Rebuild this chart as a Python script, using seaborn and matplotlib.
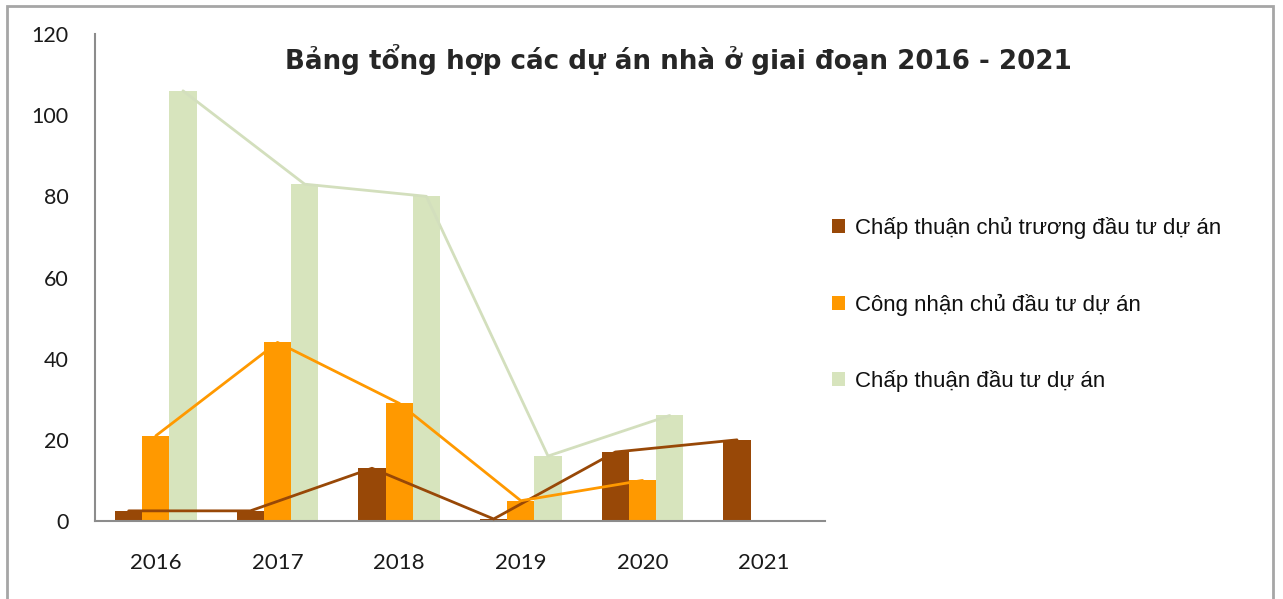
import matplotlib
matplotlib.use("Agg")
import matplotlib.pyplot as plt
import matplotlib.patches as mpatches
import seaborn as sns
import pandas as pd
import numpy as np

years = ["2016", "2017", "2018", "2019", "2020", "2021"]
series_names = ["Chấp thuận chủ trương đầu tư dự án",
                "Công nhận chủ đầu tư dự án",
                "Chấp thuận đầu tư dự án"]
chu_truong = [2.5, 2.5, 13, 0.5, 17, 20]
cong_nhan = [21, 44, 29, 5, 10, np.nan]
chap_thuan = [106, 83, 80, 16, 26, np.nan]
colors = ["#984807", "#ff9900", "#d7e4bd"]
line_colors = ["#984807", "#ff9900", "#d3dfbd"]
title = "Bảng tổng hợp các dự án nhà ở giai đoạn 2016 - 2021"
yticks = [0, 20, 40, 60, 80, 100, 120]

rows = []
for name, vals in zip(series_names, [chu_truong, cong_nhan, chap_thuan]):
    for y, v in zip(years, vals):
        rows.append({"year": y, "series": name, "value": v})
df = pd.DataFrame(rows)

sns.set_style("white")
plt.rcParams['font.family'] = ['Liberation Sans', 'DejaVu Sans']

fig = plt.figure(figsize=(12.83, 5.99), dpi=100)
ax = fig.add_axes([95/1283, 1-521/599, 730/1283, 487/599])

sns.barplot(data=df, x="year", y="value", hue="series", hue_order=series_names,
            order=years, palette=colors, width=0.67, gap=0, ax=ax,
            saturation=1, legend=True, errorbar=None, linewidth=0)

# lines connecting the bar tops, using bar centres from each drawn container
n = len(years)
for cont, vals, lc in zip(ax.containers, [chu_truong, cong_nhan, chap_thuan], line_colors):
    xs, ys = [], []
    for p in cont.patches:
        xs.append(p.get_x() + p.get_width() / 2)
        ys.append(p.get_height())
    ax.plot(xs, ys, color=lc, lw=2, zorder=5)

ax.set_ylim(0, 120)
ax.set_xlim(-0.5, n - 0.5)
ax.set_yticks(yticks)
ax.set_yticklabels([str(t) for t in yticks], fontfamily="Lato", fontsize=15.5, color="#1a1a1a")
ax.set_xticks(range(n))
ax.set_xticklabels(years, fontfamily="Lato", fontsize=16, color="#1a1a1a")
ax.set_xticks(np.arange(-0.5, n, 1), minor=True)
ax.tick_params(axis="x", which="major", length=0, pad=23)
ax.tick_params(axis="x", which="minor", length=9, width=1.5, color="#8c8c8c", direction="out")
ax.tick_params(axis="y", which="major", length=7, width=1.5, color="#8c8c8c", direction="out", pad=12)
ax.set_xlabel("")
ax.set_ylabel("")
for s in ["top", "right"]:
    ax.spines[s].set_visible(False)
for s in ["left", "bottom"]:
    ax.spines[s].set_color("#8c8c8c")
    ax.spines[s].set_linewidth(1.5)

leg = ax.legend(loc="upper left", bbox_to_anchor=(812/1283, 1-197/599),
                bbox_transform=fig.transFigure, frameon=False,
                fontsize=16, labelspacing=2.45, handlelength=0.6,
                handleheight=0.6, handletextpad=0.45)
for t in leg.get_texts():
    t.set_color("#111111")

fig.text(678/1283, 1-60/599, title, ha="center", va="center",
         fontsize=18.8, fontweight="bold", color="#262626",
         fontfamily="DejaVu Sans")

fig.add_artist(mpatches.Rectangle((7/1283, -0.05), 1266/1283, 1.05 - 6/599,
                                  transform=fig.transFigure, fill=False,
                                  edgecolor="#a6a6a6", lw=2))

fig.savefig("out.png", dpi=100)
